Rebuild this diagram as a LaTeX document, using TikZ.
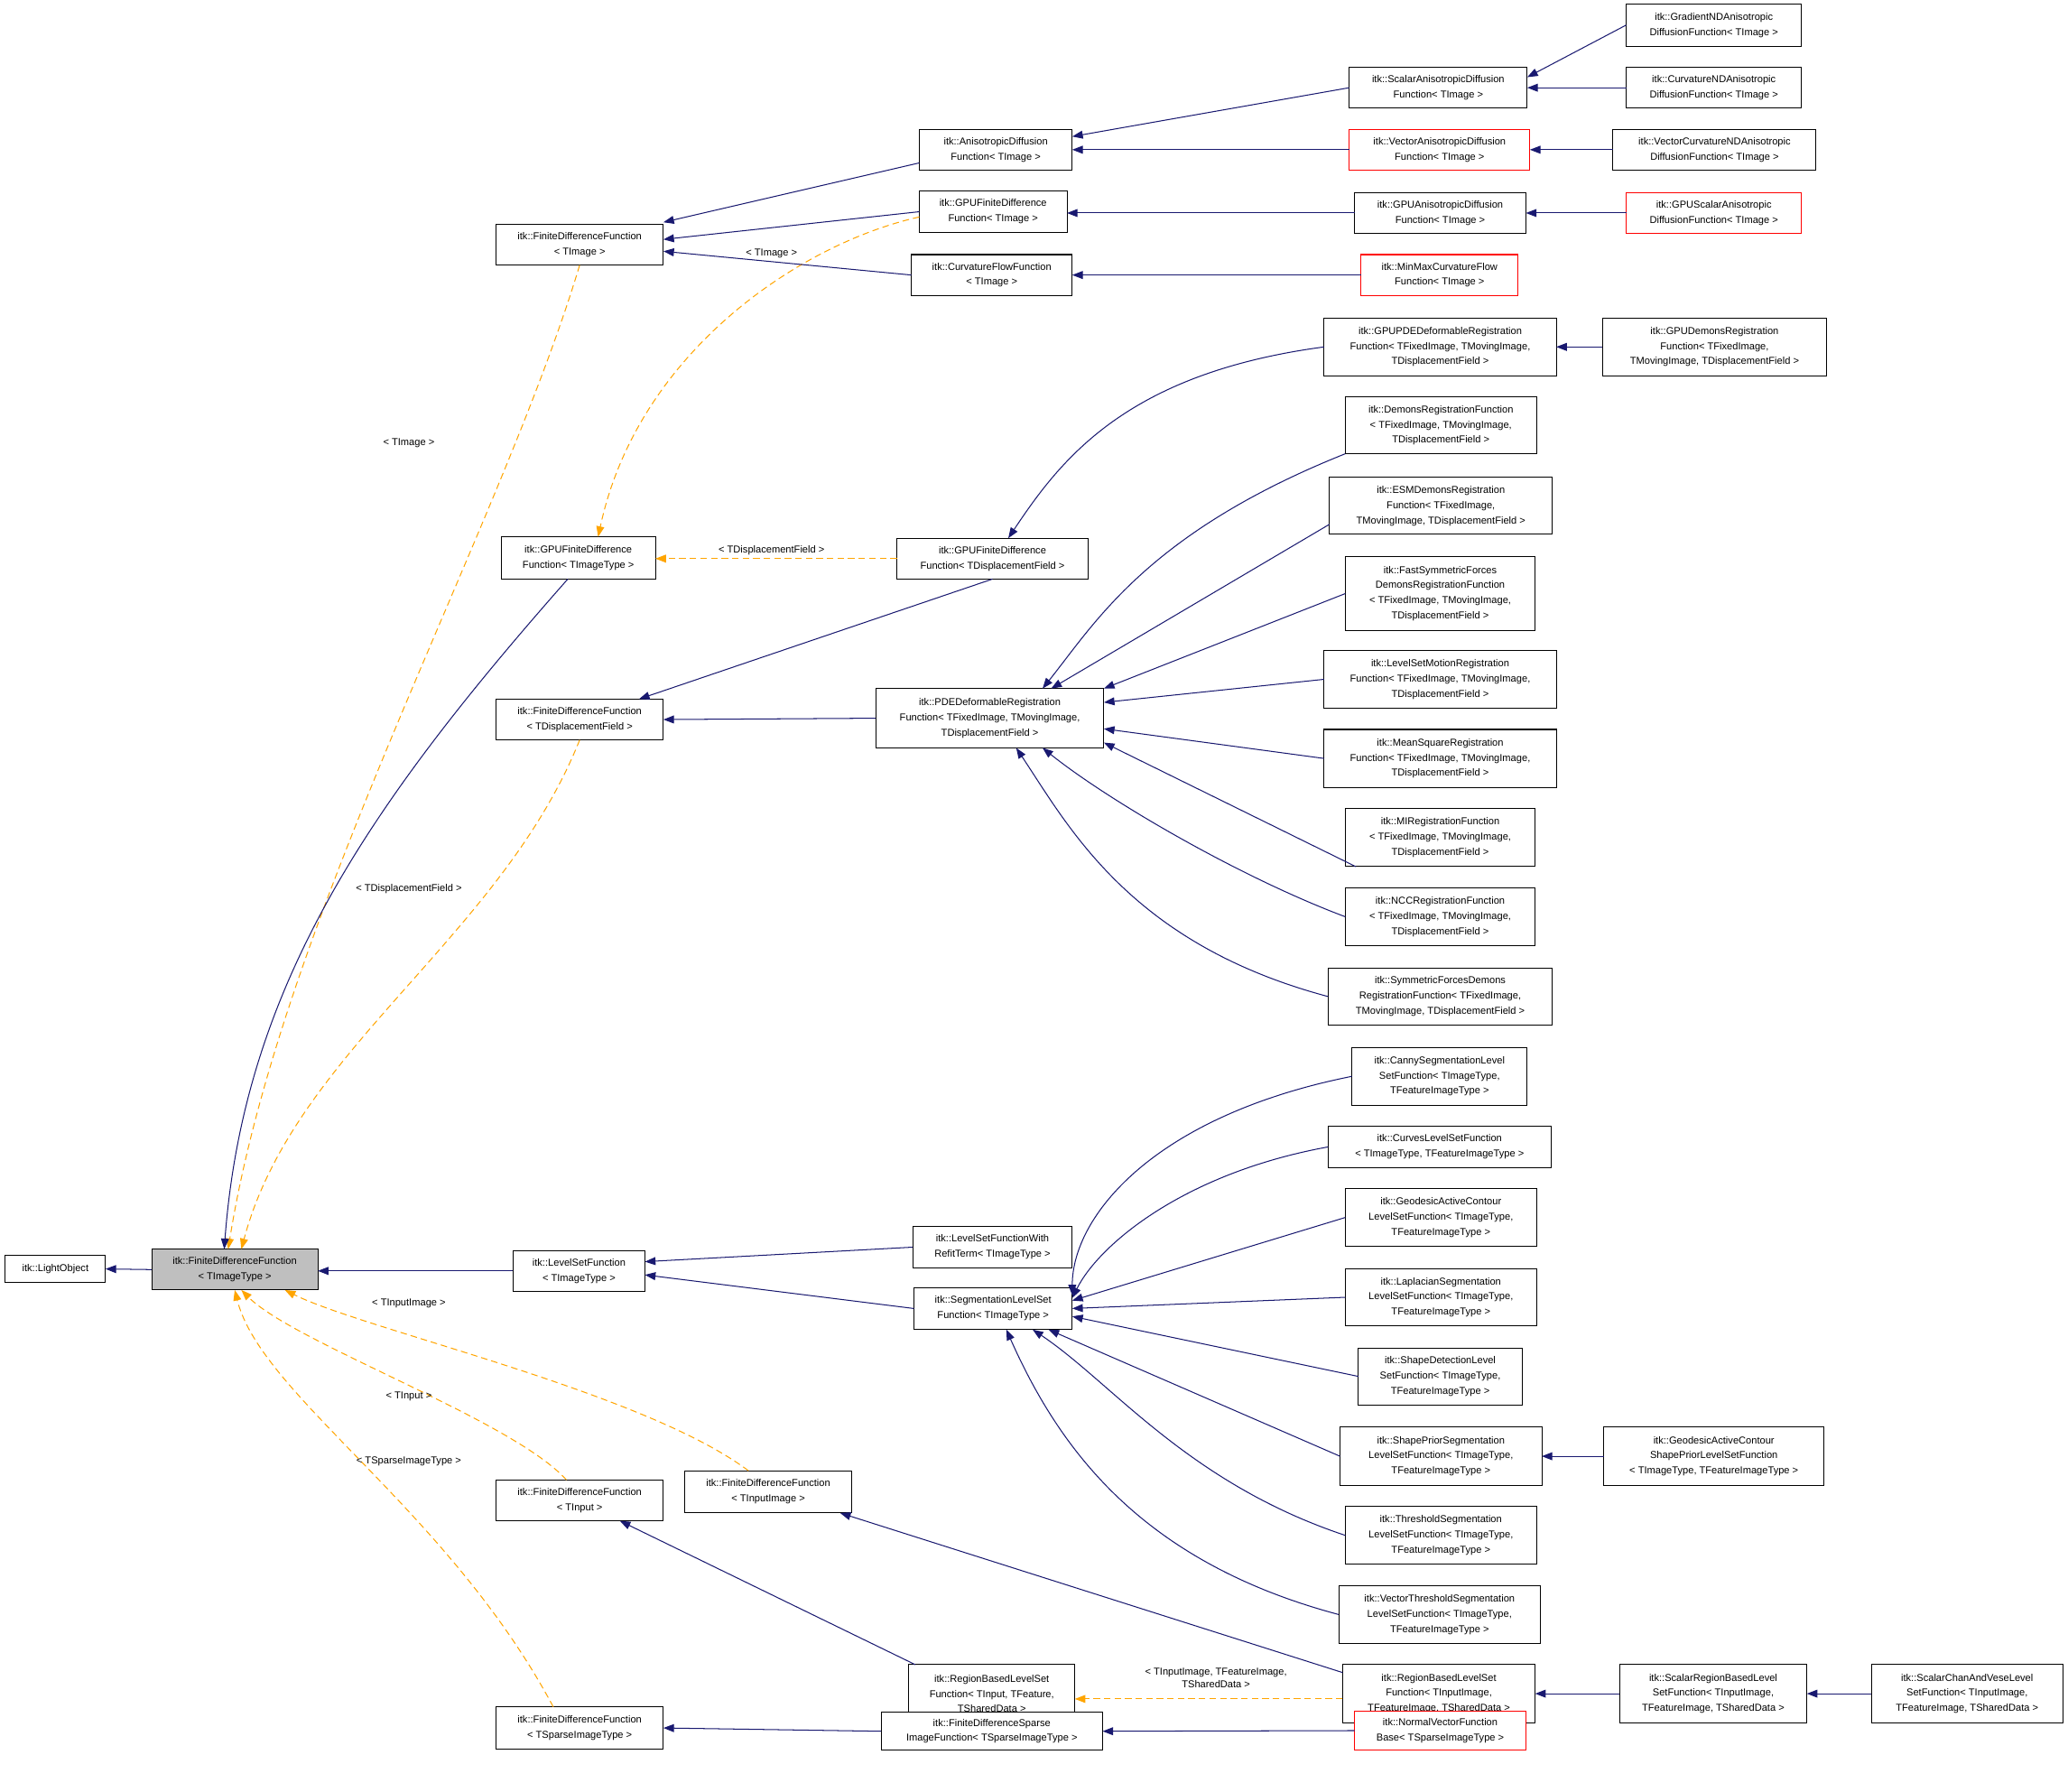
\documentclass[tikz,border=0pt]{standalone}
\usepackage{fontspec}
\setmainfont{Liberation Sans}
\usetikzlibrary{arrows.meta,calc}
\definecolor{navy}{HTML}{191970}
\definecolor{orng}{HTML}{FFA500}
\newcommand\mybox[7][]{\node[box,#1,anchor=north west,minimum width={(#5-#3)*1pt},minimum height={(#6-#4)*1pt}] (#2) at (#3,#4) {#7};}
\begin{document}
\begin{tikzpicture}[x=1pt,y=-1pt,
 box/.style={draw=black,line width=0.7pt,fill=white,inner sep=1pt,outer sep=0pt,align=center,font=\fontsize{7.6}{11.5}\selectfont},
 red/.style={draw=red},
 inh/.style={draw=navy,line width=0.7pt,-{Triangle[length=8pt,width=6pt]}},
 tpl/.style={draw=orng,line width=0.7pt,dashed,dash pattern=on 5pt off 3pt,-{Triangle[length=8pt,width=6pt]}},
 lbl/.style={font=\fontsize{7.6}{10}\selectfont,align=center,inner sep=0pt}]
\useasboundingbox[fill=white] (0,0) rectangle (1568,1358);
% nodes
\mybox{light}{4}{952}{80}{972}{itk::LightObject}
\mybox[fill=gray!50]{fdf}{115}{947}{241}{978}{itk::FiniteDifferenceFunction\\< TImageType >}
\mybox{fdfT}{376}{170}{503}{201}{itk::FiniteDifferenceFunction\\< TImage >}
\mybox{gpuT}{380}{407}{497}{439}{itk::GPUFiniteDifference\\Function< TImageType >}
\mybox{fdfD}{376}{530}{503}{561}{itk::FiniteDifferenceFunction\\< TDisplacementField >}
\mybox{lsf}{389}{948}{489}{979}{itk::LevelSetFunction\\< TImageType >}
\mybox{fdfI}{376}{1122}{503}{1153}{itk::FiniteDifferenceFunction\\< TInput >}
\mybox{fdfII}{519}{1115}{646}{1147}{itk::FiniteDifferenceFunction\\< TInputImage >}
\mybox{fdfS}{376}{1294}{503}{1326}{itk::FiniteDifferenceFunction\\< TSparseImageType >}
\mybox{aniso}{697}{98}{813}{129}{itk::AnisotropicDiffusion\\Function< TImage >}
\mybox{gpuFT}{697}{145}{809}{176}{itk::GPUFiniteDifference\\Function< TImage >}
\mybox{cflow}{691}{193}{813}{224}{itk::CurvatureFlowFunction\\< TImage >}
\mybox{gpuD}{680}{408}{825}{439}{itk::GPUFiniteDifference\\Function< TDisplacementField >}
\mybox{pde}{664}{522}{837}{567}{itk::PDEDeformableRegistration\\Function< TFixedImage, TMovingImage,\\TDisplacementField >}
\mybox{refit}{692}{930}{813}{961}{itk::LevelSetFunctionWith\\RefitTerm< TImageType >}
\mybox{seg}{693}{976}{813}{1008}{itk::SegmentationLevelSet\\Function< TImageType >}
\mybox{rbI}{689}{1262}{815}{1306}{itk::RegionBasedLevelSet\\Function< TInput, TFeature,\\TSharedData >}
\mybox{fds}{668}{1298}{836}{1327}{itk::FiniteDifferenceSparse\\ImageFunction< TSparseImageType >}
\mybox{sAniso}{1023}{51}{1158}{82}{itk::ScalarAnisotropicDiffusion\\Function< TImage >}
\mybox[red]{vAniso}{1023}{98}{1160}{129}{itk::VectorAnisotropicDiffusion\\Function< TImage >}
\mybox{gpuAniso}{1027}{146}{1157}{177}{itk::GPUAnisotropicDiffusion\\Function< TImage >}
\mybox[red]{minmax}{1032}{193}{1151}{224}{itk::MinMaxCurvatureFlow\\Function< TImage >}
\mybox{gpuPDE}{1004}{241}{1180}{285}{itk::GPUPDEDeformableRegistration\\Function< TFixedImage, TMovingImage,\\TDisplacementField >}
\mybox{demons}{1020}{301}{1165}{344}{itk::DemonsRegistrationFunction\\< TFixedImage, TMovingImage,\\TDisplacementField >}
\mybox{esm}{1008}{362}{1177}{405}{itk::ESMDemonsRegistration\\Function< TFixedImage,\\TMovingImage, TDisplacementField >}
\mybox{fast}{1020}{422}{1164}{478}{itk::FastSymmetricForces\\DemonsRegistrationFunction\\< TFixedImage, TMovingImage,\\TDisplacementField >}
\mybox{lsm}{1004}{493}{1180}{537}{itk::LevelSetMotionRegistration\\Function< TFixedImage, TMovingImage,\\TDisplacementField >}
\mybox{msq}{1004}{553}{1180}{597}{itk::MeanSquareRegistration\\Function< TFixedImage, TMovingImage,\\TDisplacementField >}
\mybox{mi}{1020}{613}{1164}{657}{itk::MIRegistrationFunction\\< TFixedImage, TMovingImage,\\TDisplacementField >}
\mybox{ncc}{1020}{673}{1164}{717}{itk::NCCRegistrationFunction\\< TFixedImage, TMovingImage,\\TDisplacementField >}
\mybox{sym}{1007}{734}{1177}{777}{itk::SymmetricForcesDemons\\RegistrationFunction< TFixedImage,\\TMovingImage, TDisplacementField >}
\mybox{canny}{1025}{794}{1158}{838}{itk::CannySegmentationLevel\\SetFunction< TImageType,\\TFeatureImageType >}
\mybox{curves}{1007}{854}{1176}{885}{itk::CurvesLevelSetFunction\\< TImageType, TFeatureImageType >}
\mybox{geo}{1020}{901}{1165}{945}{itk::GeodesicActiveContour\\LevelSetFunction< TImageType,\\TFeatureImageType >}
\mybox{lap}{1020}{962}{1165}{1005}{itk::LaplacianSegmentation\\LevelSetFunction< TImageType,\\TFeatureImageType >}
\mybox{shape}{1030}{1022}{1154}{1065}{itk::ShapeDetectionLevel\\SetFunction< TImageType,\\TFeatureImageType >}
\mybox{prior}{1016}{1082}{1169}{1126}{itk::ShapePriorSegmentation\\LevelSetFunction< TImageType,\\TFeatureImageType >}
\mybox{thr}{1020}{1142}{1165}{1186}{itk::ThresholdSegmentation\\LevelSetFunction< TImageType,\\TFeatureImageType >}
\mybox{vthr}{1015}{1202}{1168}{1246}{itk::VectorThresholdSegmentation\\LevelSetFunction< TImageType,\\TFeatureImageType >}
\mybox{rbII}{1018}{1262}{1164}{1306}{itk::RegionBasedLevelSet\\Function< TInputImage,\\TFeatureImage, TSharedData >}
\mybox[red]{normal}{1027}{1297}{1157}{1327}{itk::NormalVectorFunction\\Base< TSparseImageType >}
\mybox{gradND}{1233}{3}{1366}{35}{itk::GradientNDAnisotropic\\DiffusionFunction< TImage >}
\mybox{curvND}{1233}{51}{1366}{82}{itk::CurvatureNDAnisotropic\\DiffusionFunction< TImage >}
\mybox{vcurvND}{1223}{98}{1377}{129}{itk::VectorCurvatureNDAnisotropic\\DiffusionFunction< TImage >}
\mybox[red]{gpuSAniso}{1233}{146}{1366}{177}{itk::GPUScalarAnisotropic\\DiffusionFunction< TImage >}
\mybox{gpuDemons}{1215}{241}{1385}{285}{itk::GPUDemonsRegistration\\Function< TFixedImage,\\TMovingImage, TDisplacementField >}
\mybox{geoPrior}{1216}{1082}{1383}{1126}{itk::GeodesicActiveContour\\ShapePriorLevelSetFunction\\< TImageType, TFeatureImageType >}
\mybox{sRB}{1228}{1262}{1370}{1306}{itk::ScalarRegionBasedLevel\\SetFunction< TInputImage,\\TFeatureImage, TSharedData >}
\mybox{chan}{1419}{1262}{1564}{1306}{itk::ScalarChanAndVeseLevel\\SetFunction< TInputImage,\\TFeatureImage, TSharedData >}
% dashed template edges
\draw[tpl] (fdfT.south) ++(0,0) coordinate (a1) (a1) .. controls +(-60,200) and +(40,-250) .. ($(fdf.north)+(-5,0)$);
\draw[tpl] (fdfD.south) .. controls +(-60,150) and +(40,-150) .. ($(fdf.north)+(5,0)$);
\draw[tpl] ($(fdfII.north)+(-15,0)$) .. controls +(-80,-60) and +(60,30) .. ($(fdf.south east)+(-25,0)$);
\draw[tpl] ($(fdfI.north)+(-10,0)$) .. controls +(-40,-45) and +(40,40) .. ($(fdf.south)+(5,0)$);
\draw[tpl] ($(fdfS.north)+(-20,0)$) .. controls +(-80,-150) and +(20,80) .. ($(fdf.south)+(0,0)$);
\draw[tpl] ($(gpuFT.west)+(0,4)$) .. controls +(-90,20) and +(30,-140) .. ($(gpuT.north)+(15,0)$);
\draw[tpl] (gpuD.west) -- (gpuD.west -| gpuT.east);
\draw[tpl] ($(rbII.west)+(0,4)$) -- ($(rbI.east)+(0,4)$);
\node[lbl] (l1) at (310,336) {< TImage >};
\node[lbl] (l2) at (310,674) {< TDisplacementField >};
\node[lbl] (l3) at (585,192) {< TImage >};
\node[lbl] (l4) at (585,417) {< TDisplacementField >};
\node[lbl] (l5) at (310,988) {< TInputImage >};
\node[lbl] (l6) at (310,1059) {< TInput >};
\node[lbl] (l7) at (310,1108) {< TSparseImageType >};
\node[lbl] (l8) at (922,1272) {< TInputImage, TFeatureImage,\\TSharedData >};
% inheritance edges
\draw[inh] (fdf.west) -- (light.east);
\draw[inh] (lsf.west) -- (lsf.west -| fdf.east);
\draw[inh] ($(gpuT.south)+(-8,0)$) .. controls +(-150,170) and +(15,-200) .. ($(fdf.north)+(-8,0)$);
\draw[inh] ($(aniso.west)+(0,10)$) -- ($(fdfT.east)+(0,-17)$);
\draw[inh] (gpuFT.west) -- ($(fdfT.east)+(0,-4)$);
\draw[inh] (cflow.west) -- ($(fdfT.east)+(0,5)$);
\draw[inh] (sAniso.west) -- ($(aniso.east)+(0,-10)$);
\draw[inh] (vAniso.west) -- (aniso.east);
\draw[inh] (gradND.west) -- ($(sAniso.east)+(0,-8)$);
\draw[inh] (curvND.west) -- (sAniso.east);
\draw[inh] (vcurvND.west) -- (vAniso.east);
\draw[inh] (gpuAniso.west) -- (gpuAniso.west -| gpuFT.east);
\draw[inh] (gpuSAniso.west) -- (gpuAniso.east);
\draw[inh] (minmax.west) -- (cflow.east);
\draw[inh] (gpuD.south) -- ($(fdfD.north)+(45,0)$);
\draw[inh] (pde.west) -- (fdfD.east);
\draw[inh] (gpuPDE.west) .. controls +(-150,20) and +(40,-60) .. ($(gpuD.north)+(12,0)$);
\draw[inh] (gpuDemons.west) -- (gpuPDE.east);
\draw[inh] ($(demons.south west)+(0,0)$) .. controls +(-150,60) and +(40,-50) .. ($(pde.north)+(40,0)$);
\draw[inh] ($(esm.west)+(0,14)$) -- ($(pde.north east)+(-40,0)$);
\draw[inh] (fast.west) -- ($(pde.north east)+(0,0)$);
\draw[inh] (lsm.west) -- ($(pde.east)+(0,-12)$);
\draw[inh] (msq.west) -- ($(pde.east)+(0,8)$);
\draw[inh] ($(mi.south west)+(8,0)$) -- ($(pde.south east)+(0,-4)$);
\draw[inh] (ncc.west) .. controls +(-80,-30) and +(50,40) .. ($(pde.south)+(40,0)$);
\draw[inh] (sym.west) .. controls +(-150,-40) and +(40,60) .. ($(pde.south)+(20,0)$);
\draw[inh] (canny.west) .. controls +(-150,30) and +(0,-60) .. ($(seg.east)+(0,-10)$);
\draw[inh] (curves.west) .. controls +(-110,20) and +(20,-40) .. ($(seg.east)+(0,-8)$);
\draw[inh] (geo.west) -- ($(seg.east)+(0,-6)$);
\draw[inh] (lap.west) -- ($(seg.east)+(0,0)$);
\draw[inh] (shape.west) -- ($(seg.east)+(0,6)$);
\draw[inh] (prior.west) -- ($(seg.south east)+(-18,0)$);
\draw[inh] (thr.west) .. controls +(-120,-40) and +(60,40) .. ($(seg.south)+(30,0)$);
\draw[inh] (vthr.west) .. controls +(-150,-40) and +(40,90) .. ($(seg.south)+(10,0)$);
\draw[inh] (geoPrior.west) -- (prior.east);
\draw[inh] (refit.west) -- ($(lsf.east)+(0,-7)$);
\draw[inh] (seg.west) -- ($(lsf.east)+(0,3)$);
\draw[inh] ($(rbI.north west)+(5,0)$) -- ($(fdfI.south east)+(-33,0)$);
\draw[inh] ($(rbII.north west)+(0,6)$) -- ($(fdfII.south east)+(-9,0)$);
\draw[inh] (sRB.west) -- (rbII.east);
\draw[inh] (chan.west) -- (sRB.east);
\draw[inh] (fds.west) -- (fdfS.east);
\draw[inh] (normal.west) -- (fds.east);
\end{tikzpicture}
\end{document}
